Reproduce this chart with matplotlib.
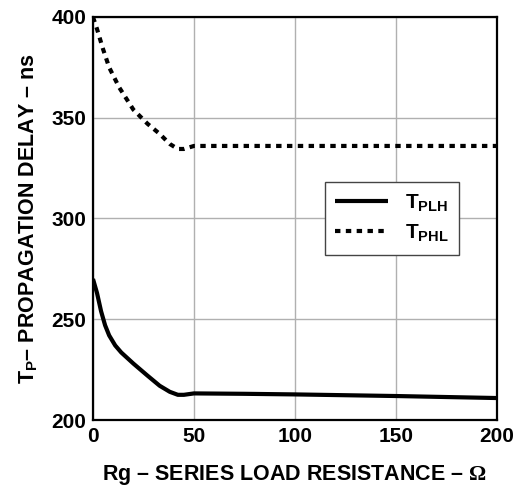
import matplotlib.pyplot as plt

plt.rcParams['font.family'] = ['Liberation Sans', 'DejaVu Sans']
plt.rcParams['font.weight'] = 'bold'
plt.rcParams['mathtext.fontset'] = 'custom'
plt.rcParams['mathtext.rm'] = 'Liberation Serif'
plt.rcParams['mathtext.bf'] = 'Liberation Sans:bold'

# series load resistance (ohm) and delays (ns)
rg_plh = [0, 2, 4, 6, 8, 11, 14, 20, 27, 33, 38, 42, 45, 50, 75, 100, 125, 150, 175, 200]
t_plh = [270, 263, 254, 247, 242, 237, 233.5, 228, 222, 217, 214, 212.5, 212.5, 213.2,
         213, 212.7, 212.3, 211.9, 211.4, 210.9]

rg_phl = [0, 2, 5, 8, 13, 20, 27, 33, 38, 42, 45, 50, 100, 150, 200]
t_phl = [400, 394, 384, 375, 365, 354, 347, 342, 337, 334.5, 334.5, 336, 336, 336, 336]

x_ticks = [0, 50, 100, 150, 200]
y_ticks = [200, 250, 300, 350, 400]

fig = plt.figure(figsize=(5.18, 4.95), dpi=100)
ax = fig.add_axes([0.1795, 0.1515, 0.78, 0.8142])

ax.plot(rg_plh, t_plh, color='black', lw=3, solid_capstyle='butt',
        label=r'T$_\mathbf{PLH}$')
ax.plot(rg_phl, t_phl, color='black', lw=3, linestyle=(0, (1.3, 1.3)),
        dash_capstyle='butt', label=r'T$_\mathbf{PHL}$')

ax.set_xlim(0, 200)
ax.set_ylim(200, 400)
ax.set_xticks(x_ticks)
ax.set_yticks(y_ticks)
ax.tick_params(length=0, labelsize=15, pad=5)
for lab in ax.get_xticklabels() + ax.get_yticklabels():
    lab.set_fontweight('bold')
ax.grid(color='#b0b0b0', lw=1)
for s in ax.spines.values():
    s.set_linewidth(1.6)

ax.set_xlabel(r'Rg – SERIES LOAD RESISTANCE – $\Omega$', fontsize=15.5,
              fontweight='bold', labelpad=12)
ax.set_ylabel(r'T$_\mathbf{P}$– PROPAGATION DELAY – ns', fontsize=15.5,
              fontweight='bold', labelpad=8)

leg = ax.legend(loc='upper left', bbox_to_anchor=(0.574, 0.59), fontsize=15,
                handlelength=2.55, fancybox=False, framealpha=1,
                borderpad=0.5, labelspacing=0.4, borderaxespad=0)
leg.get_frame().set_edgecolor('#444444')
leg.get_frame().set_linewidth(1)

fig.savefig('out.png', dpi=100)
